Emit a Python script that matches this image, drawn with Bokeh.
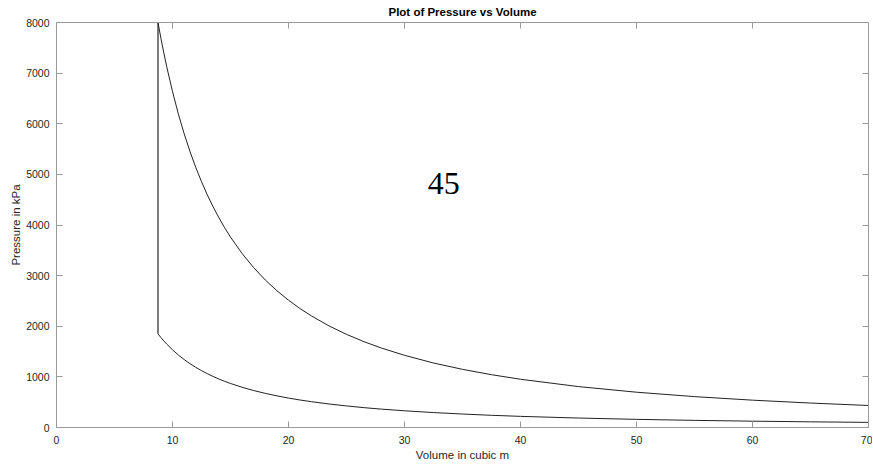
from bokeh.plotting import figure
from bokeh.models import Range1d, LinearAxis, SingleIntervalTicker
from bokeh.core.properties import value
from bokeh.embed import file_html
from bokeh.resources import INLINE

# Data
volume = [8.75, 9, 9.25, 9.5, 10, 10.5, 11, 11.5, 12, 12.5, 13, 13.5, 14, 14.5,
          15, 16, 17, 18, 19, 20, 21, 22, 23.5, 25, 26.5, 28, 30, 32.5, 35,
          37.5, 40, 45, 50, 55, 60, 65, 70]
p_high = [8000, 7690, 7401, 7130, 6636, 6198, 5807, 5457, 5141, 4856, 4596,
          4360, 4143, 3944, 3762, 3437, 3157, 2914, 2702, 2514, 2348, 2201,
          2006, 1840, 1696, 1570, 1426, 1274, 1149, 1043, 953, 808, 697, 610,
          540, 483, 435]
p_low = [1850, 1778, 1711, 1649, 1535, 1433, 1343, 1262, 1189, 1123, 1063,
         1008, 958, 912, 870, 795, 730, 674, 625, 581, 543, 509, 464, 426, 392,
         363, 330, 295, 266, 241, 220, 187, 161, 141, 125, 112, 101]
x_ticks_interval = 10
y_ticks_interval = 1000
annotation_text = ["45"]
annotation_x = [32]
annotation_y = [4810]

FONT = "Liberation Sans"
AX_COLOR = "#9a9a9a"
TXT_COLOR = "#262626"
LINE_COLOR = "#222222"

p = figure(width=872, height=463, output_backend="svg", toolbar_location=None,
           x_range=Range1d(0, 70), y_range=Range1d(0, 8000),
           x_axis_type=None, y_axis_type=None,
           min_border_left=56, min_border_right=2, min_border_top=22,
           min_border_bottom=0)
p.outline_line_color = None
p.xgrid.visible = False
p.ygrid.visible = False

p.title.text = "Plot of Pressure vs Volume"
p.title.align = "center"
p.title.text_font = FONT
p.title.text_font_size = "11.5px"
p.title.text_font_style = "bold"
p.title.text_color = "#000000"
p.title.standoff = 1


def style(ax, labels=True, tick_standoff=3, label_standoff=2):
    ax.axis_line_color = AX_COLOR
    ax.major_tick_line_color = AX_COLOR
    ax.major_tick_in = 6
    ax.major_tick_out = 0
    ax.minor_tick_line_color = None
    ax.major_label_text_font = FONT
    ax.major_label_text_font_size = "10.5px" if labels else "1px"
    ax.major_label_text_color = TXT_COLOR if labels else None
    ax.major_label_standoff = tick_standoff if labels else 0
    ax.axis_label_text_font = FONT
    ax.axis_label_text_font_size = "11.5px"
    ax.axis_label_text_font_style = "normal"
    ax.axis_label_text_color = TXT_COLOR
    ax.axis_label_standoff = label_standoff


xb = LinearAxis(ticker=SingleIntervalTicker(interval=x_ticks_interval),
                axis_label="Volume in cubic m")
yl = LinearAxis(ticker=SingleIntervalTicker(interval=y_ticks_interval),
                axis_label="Pressure in kPa")
xt = LinearAxis(ticker=SingleIntervalTicker(interval=x_ticks_interval))
yr = LinearAxis(ticker=SingleIntervalTicker(interval=y_ticks_interval))
style(xb, tick_standoff=4, label_standoff=2)
style(yl, tick_standoff=3, label_standoff=1)
style(xt, labels=False)
style(yr, labels=False)
p.add_layout(xb, "below")
p.add_layout(yl, "left")
p.add_layout(xt, "above")
p.add_layout(yr, "right")

p.line(volume, p_high, line_color=LINE_COLOR, line_width=1)
p.line(volume, p_low, line_color=LINE_COLOR, line_width=1)
p.line([volume[0], volume[0]], [p_low[0], p_high[0]], line_color=LINE_COLOR,
       line_width=1.2)

p.text(x=annotation_x, y=annotation_y, text=annotation_text,
       text_font=value("Liberation Serif"), text_font_size="32px",
       text_color="#000000", text_baseline="alphabetic", text_align="left")

open("out.html", "w").write(file_html(p, INLINE))
